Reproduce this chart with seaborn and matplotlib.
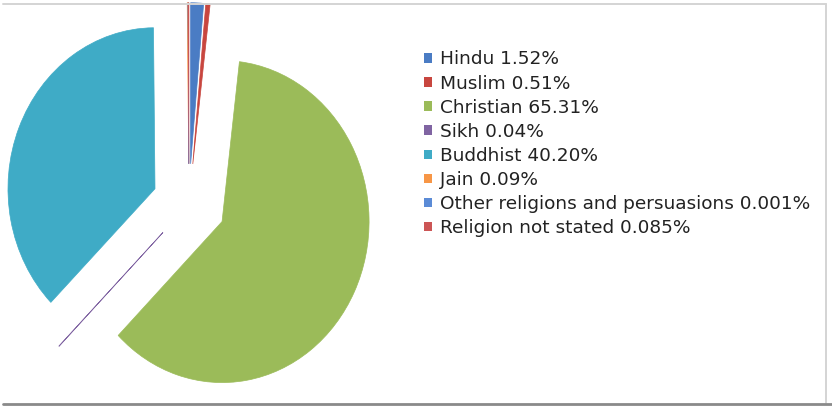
import matplotlib
matplotlib.use("Agg")
import matplotlib.pyplot as plt
from matplotlib.lines import Line2D
from matplotlib.patches import Patch
import seaborn as sns

# Religious affiliation shares (%)
religions = ["Hindu", "Muslim", "Christian", "Sikh", "Buddhist", "Jain",
             "Other religions and persuasions", "Religion not stated"]
share_labels = ["1.52%", "0.51%", "65.31%", "0.04%", "40.20%", "0.09%",
                "0.001%", "0.085%"]
shares = [1.52, 0.51, 65.31, 0.04, 40.20, 0.09, 0.001, 0.085]
colors = ["#4a7cc4", "#c8463f", "#9bbb59", "#8064a2", "#3fabc6",
          "#f79646", "#5b8bd6", "#cc5555"]

sns.set_theme(style="white")
plt.rcParams["font.family"] = ["DejaVu Sans"]

W, H = 832, 407
fig = plt.figure(figsize=(W / 100, H / 100), dpi=100)
fig.patch.set_facecolor("white")

ax = fig.add_axes([0, 0, 1, 1])
palette = sns.color_palette(colors)
wedges, _ = ax.pie(
    shares,
    colors=palette,
    startangle=90,
    counterclock=False,
    explode=[0.25] * len(shares),
    radius=1.0,
    wedgeprops=dict(linewidth=0.5),
)
for w, c in zip(wedges, palette):
    w.set_edgecolor(c)

# pie centre and per-axis pixel scale
cx, cy = 189.0, 204.0
sx, sy = 147.0, 161.0
ax.set_aspect("auto")
ax.set_xlim(-cx / sx, (W - cx) / sx)
ax.set_ylim((cy - H) / sy, cy / sy)
ax.axis("off")

handles = [Patch(facecolor=c, edgecolor="none") for c in palette]
labels = [f"{r} {s}" for r, s in zip(religions, share_labels)]
leg = ax.legend(
    handles, labels,
    loc="upper left",
    bbox_to_anchor=(424 / W, 1 - 50.5 / H),
    bbox_transform=fig.transFigure,
    frameon=False,
    fontsize=13.3,
    handlelength=0.42,
    handleheight=0.42,
    handletextpad=0.42,
    labelspacing=0.33,
    borderpad=0,
    borderaxespad=0,
)
for t in leg.get_texts():
    t.set_color("#222222")

# chart area border
fig.add_artist(Line2D([3 / W, 826 / W], [1 - 3.5 / H] * 2,
                      transform=fig.transFigure, color="#d4d4d4", lw=1.4))
fig.add_artist(Line2D([826 / W] * 2, [1 - 3.5 / H, 1 - 403 / H],
                      transform=fig.transFigure, color="#d4d4d4", lw=1.4))
fig.add_artist(Line2D([3 / W, 1], [1 - 403.8 / H] * 2,
                      transform=fig.transFigure, color="#8a8a8a", lw=2.0))

fig.savefig("out.png", dpi=100, facecolor="white")
